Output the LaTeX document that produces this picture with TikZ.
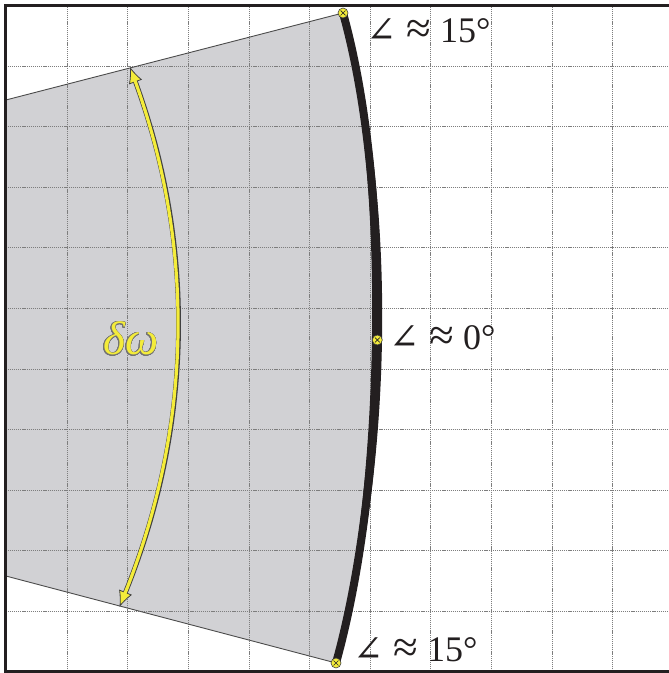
\documentclass[tikz,border=0pt]{standalone}
\usepackage{fontspec}
\setmainfont{Liberation Serif}
\newfontfamily\symfont{DejaVu Serif}
\usepackage{contour}
\contourlength{0.7pt}
\contournumber{24}
\usetikzlibrary{arrows.meta}
\definecolor{wedge}{RGB}{209,209,212}
\definecolor{ylw}{RGB}{244,236,58}
\definecolor{ink}{RGB}{35,31,32}
\definecolor{gridc}{RGB}{125,125,125}
\newcommand\anglbl[1]{{\symfont\fontsize{36}{36}\selectfont ∠}\hspace{10pt}\raisebox{-1pt}{\fontsize{45}{45}\selectfont ≈}\hspace{9pt}#1}
\tikzset{
  gridline/.style={gridc, line width=0.8pt, dash pattern=on 1.2pt off 0.9pt},
  framebox/.style={ink, line width=3pt, line join=miter},
  wedgeedge/.style={draw=black!70, line width=0.9pt},
  arcline/.style={ink, line width=8pt},
  marker/.style={circle, fill=ylw, draw=black!75, line width=0.6pt, minimum size=10pt, inner sep=0pt,
    path picture={
      \draw[black!85, line width=0.7pt]
        ([xshift=-2.4pt,yshift=-2.4pt]path picture bounding box.center) -- ++(4.8pt,4.8pt)
        ([xshift=-2.4pt,yshift=2.4pt]path picture bounding box.center) -- ++(4.8pt,-4.8pt);}},
  arrowout/.style={draw=black!75, line width=4.8pt,
    {Latex[length=16pt,width=14pt,fill=ylw,line width=0.8pt]}-{Latex[length=16pt,width=14pt,fill=ylw,line width=0.8pt]}},
  arrowin/.style={draw=ylw, line width=3.2pt, shorten <=10pt, shorten >=10pt},
  lbl/.style={anchor=base west, inner sep=0pt, font=\fontsize{36}{40}\selectfont, text=ink},
}
\begin{document}
\begin{tikzpicture}[x=1pt,y=1pt]
\useasboundingbox (0,0) rectangle (669,673);
\fill[white] (0,0) rectangle (669,673);
% key points
\coordinate (T) at (343,660);
\coordinate (M) at (377.3,333);
\coordinate (B) at (336,10);
\coordinate (WT) at (5.5,572.9);
\coordinate (WB) at (5.5,97.1);
\coordinate (A1) at (130,606);
\coordinate (A2) at (119.5,66);
% gray wedge
\fill[wedge] (WT) -- (T) .. controls (393,480) and (386,190) .. (B) -- (WB) -- cycle;
% grid
\foreach \k in {1,...,10}{
  \draw[gridline] ({6.5+60.6*\k},1.5) -- ({6.5+60.6*\k},667.7);
  \draw[gridline] (5.5,{667.5-60.6*\k}) -- (669,{667.5-60.6*\k});
}
% wedge edges
\draw[wedgeedge] (WT) -- (T);
\draw[wedgeedge] (WB) -- (B);
% thick arc
\draw[arcline] (T) .. controls (393,480) and (386,190) .. (B);
\fill[ink] (T) .. controls (399.7,480) and (392.7,190) .. (B)
           .. controls (379.3,190) and (386.3,480) .. (T) -- cycle;
% frame
\draw[framebox] (669,667.7) -- (5.5,667.7) -- (5.5,1.2) -- (669,1.2);
% double arrow
\draw[arrowout] (A1) .. controls (196.2,426) and (192.7,246) .. (A2);
\draw[arrowin] (A1) .. controls (196.2,426) and (192.7,246) .. (A2);
% delta omega label
\node[anchor=base west, inner sep=0pt, text=ylw] (dw) at (103,318)
  {\contour{black!55}{\fontsize{47}{47}\selectfont\itshape δω}};
% markers
\node[marker] (mT) at (T) {};
\node[marker] (mM) at (M) {};
\node[marker] (mB) at (B) {};
% angle labels
\node[lbl] (lT) at (366,630) {\anglbl{15°}};
\node[lbl] (lM) at (389,323) {\anglbl{0°}};
\node[lbl] (lB) at (353,11) {\anglbl{15°}};
\end{tikzpicture}
\end{document}
